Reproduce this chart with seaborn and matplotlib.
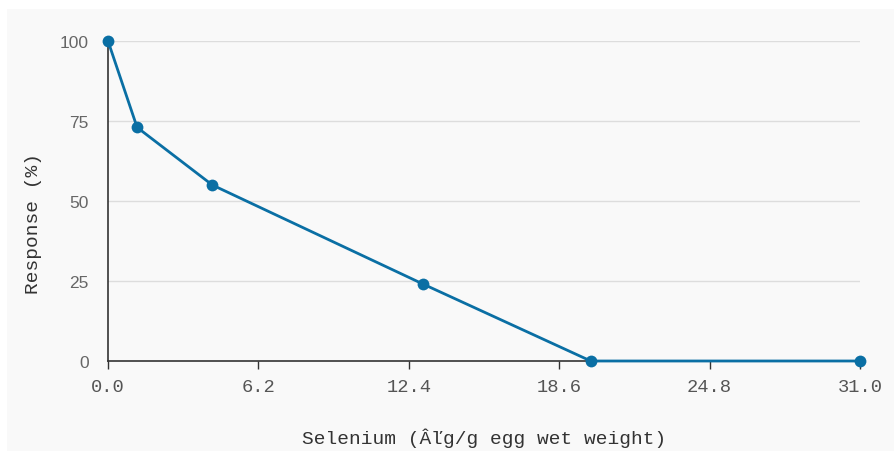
import matplotlib
matplotlib.use("Agg")
import matplotlib.pyplot as plt
from matplotlib.patches import Rectangle
import seaborn as sns
import pandas as pd

selenium = [0.0, 1.2, 4.3, 13.0, 19.9, 31.0]
response = [100, 73, 55, 24, 0, 0]
x_ticks = [0.0, 6.2, 12.4, 18.6, 24.8, 31.0]
x_tick_labels = ["0.0", "6.2", "12.4", "18.6", "24.8", "31.0"]
y_ticks = [0, 25, 50, 75, 100]

df = pd.DataFrame({"x": selenium, "y": response})

sns.set_theme(style="white")
plt.rcParams["font.family"] = ["Liberation Mono", "DejaVu Sans Mono", "DejaVu Sans"]

W, H = 894, 452
fig = plt.figure(figsize=(W / 100, H / 100), dpi=100, facecolor="white")
bg = Rectangle((7 / W, 0), 1 - 7 / W, 1 - 10 / H,
               transform=fig.transFigure, facecolor="#f9f9f9",
               edgecolor="none", zorder=-10)
fig.add_artist(bg)
ax = fig.add_axes([108 / W, 1 - 362 / H, (860 - 108) / W, (362 - 42) / H])
ax.set_zorder(1)
ax.patch.set_visible(False)

color = "#0a6fa4"
sns.lineplot(data=df, x="x", y="y", ax=ax, color=color, linewidth=2,
             marker="o", markersize=8.5, markeredgewidth=0, clip_on=False, zorder=5)

ax.set_xlim(0, 31)
ax.set_ylim(0, 100)
ax.set_xticks(x_ticks)
ax.set_xticklabels(x_tick_labels)
ax.set_yticks(y_ticks)
for yv in y_ticks[1:]:
    ax.axhline(yv, color="#dddddd", linewidth=1, zorder=1)

for s in ["top", "right"]:
    ax.spines[s].set_visible(False)
for s in ["left", "bottom"]:
    ax.spines[s].set_color("#333333")
    ax.spines[s].set_linewidth(1.2)

ax.tick_params(axis="x", bottom=True, direction="out", length=6, width=1, color="#333333",
               labelcolor="#555555", labelsize=13.5, pad=6)
ax.tick_params(axis="y", left=False, length=0, labelcolor="#666666", labelsize=12.5, pad=14)
for lbl in ax.get_yticklabels():
    lbl.set_fontfamily("Liberation Sans")
ax.set_xlabel("Selenium (Âľg/g egg wet weight)", fontsize=14, color="#333333", labelpad=24)
ax.set_ylabel("Response (%)", fontsize=14, color="#333333")
ax.yaxis.set_label_coords(-0.088, 0.434)

fig.savefig("out.png", dpi=100, facecolor="white")
